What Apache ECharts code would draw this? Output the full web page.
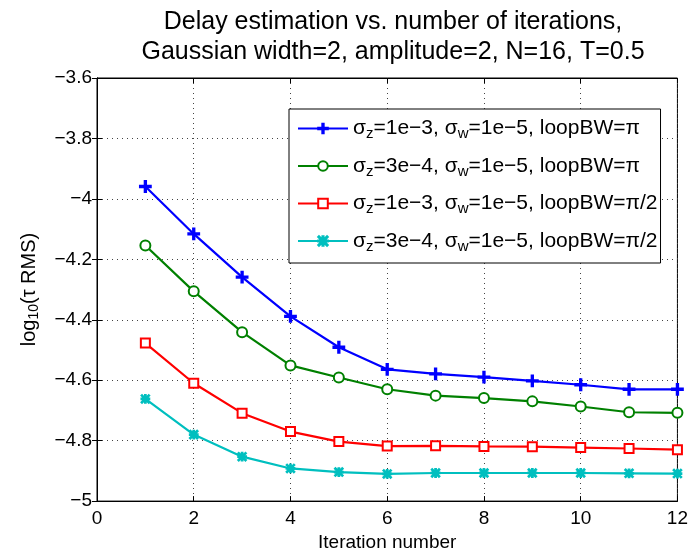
<!DOCTYPE html>
<html>
<head>
<meta charset="utf-8">
<script src="https://cdn.jsdelivr.net/npm/echarts@6/dist/echarts.min.js"></script>
<style>
html, body { margin: 0; padding: 0; background: #fff; }
#chart { width: 691px; height: 557px; }
</style>
</head>
<body>
<div id="chart"></div>
<script>
const iterations = [1, 2, 3, 4, 5, 6, 7, 8, 9, 10, 11, 12]
const blueVals = [-3.959, -4.116, -4.259, -4.389, -4.491, -4.564, -4.579, -4.590, -4.602, -4.615, -4.630, -4.630]
const greenVals = [-4.154, -4.306, -4.441, -4.551, -4.591, -4.630, -4.651, -4.659, -4.670, -4.687, -4.706, -4.708]
const redVals = [-4.477, -4.610, -4.709, -4.770, -4.803, -4.818, -4.817, -4.819, -4.820, -4.823, -4.826, -4.830]
const cyanVals = [-4.662, -4.780, -4.853, -4.892, -4.904, -4.910, -4.907, -4.907, -4.907, -4.907, -4.908, -4.909]
const seriesNames = ['s1', 's2', 's3', 's4']
const legendLabels = [
    'σ{sub|z}=1e−3, σ{sub|w}=1e−5, loopBW=π',
    'σ{sub|z}=3e−4, σ{sub|w}=1e−5, loopBW=π',
    'σ{sub|z}=1e−3, σ{sub|w}=1e−5, loopBW=π/2',
    'σ{sub|z}=3e−4, σ{sub|w}=1e−5, loopBW=π/2'
]

const font = 'Liberation Sans, Arial, sans-serif'
const plusSym = 'path://M4.3,0H5.7V4.3H10V5.7H5.7V10H4.3V5.7H0V4.3H4.3Z'
const starSym = 'path://M4.4,0H5.6V4.4H10V5.6H5.6V10H4.4V5.6H0V4.4H4.4Z M0,0.8L0.8,0L10,9.2L9.2,10Z M10,0.8L9.2,0L0,9.2L0.8,10Z'

const pair = vals => vals.map((v, i) => [iterations[i], v])
const fmt = v => {
    const s = String(Math.round(v * 10) / 10)
    return s.replace('-', '−')
}

const mkSeries = (name, vals, color, symbol, size) => ({
    name: name,
    type: 'line',
    data: pair(vals),
    symbol: symbol,
    symbolSize: size,
    showAllSymbol: true,
    lineStyle: { color: color, width: 2.2 },
    itemStyle: { color: color, borderColor: color, borderWidth: 1.8 },
    emphasis: { disabled: true },
    z: 3
})

const chart = echarts.init(document.getElementById('chart'))
chart.setOption({
    animation: false,
    textStyle: { fontFamily: font },
    title: {
        text: 'Delay estimation vs. number of iterations,\nGaussian width=2, amplitude=2, N=16, T=0.5',
        left: 388,
        textAlign: 'center',
        top: 2,
        textStyle: { fontSize: 25, fontWeight: 'normal', color: '#000', lineHeight: 30, fontFamily: font }
    },
    grid: { left: 97, right: 13, top: 78, bottom: 55, show: true, borderColor: '#000', borderWidth: 1 },
    legend: {
        data: seriesNames,
        orient: 'vertical',
        left: 289,
        top: 109,
        padding: [9, 3, 9, 8],
        itemGap: 14,
        itemWidth: 50,
        itemHeight: 12,
        backgroundColor: '#fff',
        borderColor: '#000',
        borderWidth: 1,
        formatter: name => legendLabels[seriesNames.indexOf(name)],
        textStyle: {
            fontSize: 21,
            color: '#000',
            fontFamily: font,
            rich: {
                sub: { fontSize: 15, verticalAlign: 'bottom', padding: [11, 0, 0, 0], fontFamily: font }
            }
        }
    },
    xAxis: [{
        type: 'value',
        min: 0,
        max: 12,
        interval: 2,
        name: 'Iteration number',
        nameLocation: 'middle',
        nameGap: 31,
        nameTextStyle: { fontSize: 19, color: '#000' },
        axisLine: { lineStyle: { color: '#000' } },
        axisTick: { inside: true, length: 5, lineStyle: { color: '#000' } },
        axisLabel: { fontSize: 19, color: '#000', margin: 8 },
        splitLine: { show: true, lineStyle: { color: '#444', type: [1, 4], width: 1 } }
    }, {
        type: 'value', position: 'top', min: 0, max: 12, interval: 2,
        axisLine: { lineStyle: { color: '#000' } },
        axisTick: { inside: true, length: 5, lineStyle: { color: '#000' } },
        axisLabel: { show: false }, splitLine: { show: false }
    }],
    yAxis: [{
        type: 'value',
        min: -5,
        max: -3.6,
        interval: 0.2,
        name: 'log{sub|10}(τ RMS)',
        nameLocation: 'middle',
        nameRotate: 90,
        nameGap: 56,
        nameTextStyle: {
            fontSize: 20, color: '#000',
            rich: { sub: { fontSize: 14, verticalAlign: 'bottom', padding: [10, 0, 0, 0] } }
        },
        axisLine: { lineStyle: { color: '#000' } },
        axisTick: { inside: true, length: 5, lineStyle: { color: '#000' } },
        axisLabel: { fontSize: 19, color: '#000', margin: 5, formatter: fmt },
        splitLine: { show: true, lineStyle: { color: '#444', type: [1, 4], width: 1 } }
    }, {
        type: 'value', position: 'right', min: -5, max: -3.6, interval: 0.2,
        axisLine: { show: true, lineStyle: { color: '#000' } },
        axisTick: { show: true, inside: true, length: 5, lineStyle: { color: '#000' } },
        axisLabel: { show: false }, splitLine: { show: false }
    }],
    series: [
        mkSeries('s1', blueVals, '#0000ff', plusSym, 11),
        mkSeries('s2', greenVals, '#008000', 'emptyCircle', 10),
        mkSeries('s3', redVals, '#ff0000', 'emptyRect', 9),
        mkSeries('s4', cyanVals, '#00bfbf', starSym, 8)
    ]
})
</script>
</body>
</html>
